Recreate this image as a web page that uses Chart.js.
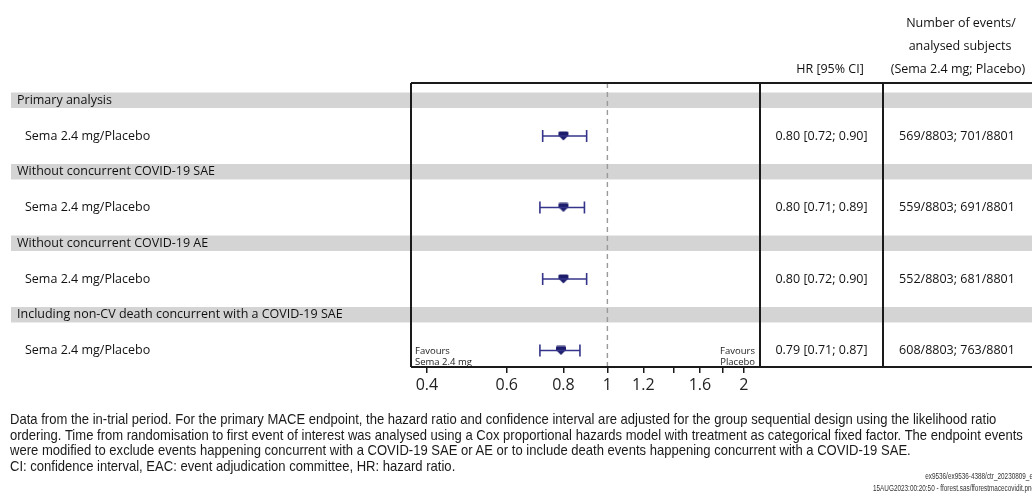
<!DOCTYPE html>
<html>
<head>
<meta charset="utf-8">
<title>Forest plot - MACE sensitivity analyses</title>
<script src="https://cdn.jsdelivr.net/npm/chart.js@4/dist/chart.umd.min.js"></script>
<style>
  html, body { margin: 0; padding: 0; background: #fff; }
  .wrap { position: relative; width: 1032px; height: 493px; overflow: hidden; }
  #forest { position: absolute; left: 0; top: 0; }
  .note {
    position: absolute; left: 10px; top: 412px;
    font-family: 'Liberation Sans', Arial, sans-serif;
    font-size: 14.6px; line-height: 15.7px; color: #1a1a1a;
    white-space: nowrap;
    transform: scaleX(0.894); transform-origin: left top;
  }
  .stamp {
    position: absolute; right: -3px; top: 471px; text-align: right;
    font-family: 'Liberation Sans', sans-serif; font-size: 8.5px; line-height: 11.5px; color: #333;
    white-space: nowrap;
    transform: scaleX(0.75); transform-origin: right top;
  }
</style>
</head>
<body>
<div class="wrap">
  <canvas id="forest" width="1032" height="493"></canvas>
  <div class="note">Data from the in-trial period. For the primary MACE endpoint, the hazard ratio and confidence interval are adjusted for the group sequential design using the likelihood ratio<br>ordering. Time from randomisation to first event of interest was analysed using a Cox proportional hazards model with treatment as categorical fixed factor. The endpoint events<br>were modified to exclude events happening concurrent with a COVID-19 SAE or AE or to include death events happening concurrent with a COVID-19 SAE.<br>CI: confidence interval, EAC: event adjudication committee, HR: hazard ratio.</div>
  <div class="stamp">ex9536/ex9536-4388/ctr_20230809_er<br>15AUG2023:00:20:50 - fforest.sas/fforestmacecovidit.png</div>
</div>
<script>
/* ---- datos ---- */
const groups = [
  'Primary analysis',
  'Without concurrent COVID-19 SAE',
  'Without concurrent COVID-19 AE',
  'Including non-CV death concurrent with a COVID-19 SAE'
];
const rowLabels = ['Sema 2.4 mg/Placebo', 'Sema 2.4 mg/Placebo', 'Sema 2.4 mg/Placebo', 'Sema 2.4 mg/Placebo'];
const hr     = [0.80, 0.80, 0.80, 0.79];
const ciLow  = [0.72, 0.71, 0.72, 0.71];
const ciHigh = [0.90, 0.89, 0.90, 0.87];
const events = ['569/8803; 701/8801', '559/8803; 691/8801', '552/8803; 681/8801', '608/8803; 763/8801'];
const tickValues = [0.4, 0.6, 0.8, 1, 1.2, 1.4, 1.6, 1.8, 2];
const tickLabels = [0.4, 0.6, 0.8, 1, 1.2, 1.6, 2];

const NAVY = '#1d1d6c';
const LINE = '#1a1a1a';
const FONT = "'Open Sans', 'Noto Sans', sans-serif";

// y: una fila por comparacion, la banda gris va media fila arriba
const Y_MIN = -0.741, Y_MAX = 3.231;

/* ---- marcador tipo escudo ---- */
function shieldMarker() {
  const c = document.createElement('canvas');
  c.width = 12; c.height = 10;
  const g = c.getContext('2d');
  g.fillStyle = NAVY;
  g.beginPath();
  g.moveTo(1, 1.5);
  g.quadraticCurveTo(1, 0.5, 2.5, 0.5);
  g.lineTo(9.5, 0.5);
  g.quadraticCurveTo(11, 0.5, 11, 1.5);
  g.lineTo(11, 4.5);
  g.lineTo(6, 9.5);
  g.lineTo(1, 4.5);
  g.closePath();
  g.fill();
  return c;
}

/* ---- datasets ---- */
const ciSets = hr.map((_, i) => ({
  data: [{ x: ciLow[i], y: i }, { x: ciHigh[i], y: i }],
  showLine: true,
  borderColor: '#34348a',
  borderWidth: 1.6,
  pointStyle: 'line',
  pointRotation: 90,
  pointRadius: 6,
  pointBorderColor: '#34348a',
  pointBorderWidth: 1.6
}));

const refLine = {
  data: [{ x: 1, y: Y_MIN }, { x: 1, y: Y_MAX }],
  showLine: true,
  borderColor: '#9a9a9a',
  borderWidth: 1.4,
  borderDash: [5, 4],
  pointRadius: 0
};

const points = {
  data: hr.map((v, i) => ({ x: v, y: i })),
  pointStyle: shieldMarker(),
  pointRadius: 6
};

/* ---- tabla: bandas, bordes y textos ---- */
const tablePlugin = {
  id: 'forestTable',
  beforeDraw(chart) {
    const { ctx, scales: { y } } = chart;
    ctx.save();
    ctx.fillStyle = '#d4d4d4';
    groups.forEach((_, i) => {
      const top = y.getPixelForValue(i - 0.5 - 0.108);
      const bot = y.getPixelForValue(i - 0.5 + 0.108);
      ctx.fillRect(11, top, chart.width - 11, bot - top);
    });
    ctx.restore();
  },
  afterDraw(chart) {
    const { ctx, chartArea: a, scales: { y } } = chart;
    const col2 = 883;
    ctx.save();

    // bordes
    ctx.strokeStyle = LINE;
    ctx.lineWidth = 2;
    ctx.beginPath();
    ctx.moveTo(a.left, a.top); ctx.lineTo(chart.width, a.top);
    ctx.moveTo(a.left, a.bottom); ctx.lineTo(chart.width, a.bottom);
    [a.left, a.right, col2].forEach(x => { ctx.moveTo(x, a.top); ctx.lineTo(x, a.bottom); });
    ctx.stroke();

    // cabeceras
    ctx.fillStyle = '#111';
    ctx.font = '12.5px ' + FONT;
    ctx.textAlign = 'center';
    ctx.textBaseline = 'middle';
    ctx.fillText('HR [95% CI]', 830, 69);
    ctx.fillText('Number of events/', 961, 23);
    ctx.fillText('analysed subjects', 960, 46);
    ctx.fillText('(Sema 2.4 mg; Placebo)', 958, 69);

    // filas
    groups.forEach((g, i) => {
      const yBand = y.getPixelForValue(i - 0.5);
      const yRow = y.getPixelForValue(i);
      ctx.textAlign = 'left';
      ctx.fillText(g, 17, yBand);
      ctx.fillText(rowLabels[i], 25, yRow);
      ctx.textAlign = 'center';
      const txt = hr[i].toFixed(2) + ' [' + ciLow[i].toFixed(2) + '; ' + ciHigh[i].toFixed(2) + ']';
      ctx.fillText(txt, 821.5, yRow);
      ctx.fillText(events[i], 957, yRow);
    });

    // favours
    ctx.font = '9.5px ' + FONT;
    ctx.fillStyle = '#222';
    ctx.textAlign = 'left';
    ctx.fillText('Favours', a.left + 4, a.bottom - 16);
    ctx.fillText('Sema 2.4 mg', a.left + 4, a.bottom - 5);
    ctx.textAlign = 'right';
    ctx.fillText('Favours', a.right - 5, a.bottom - 16);
    ctx.fillText('Placebo', a.right - 5, a.bottom - 5);
    ctx.restore();
  }
};

new Chart(document.getElementById('forest'), {
  type: 'scatter',
  data: { datasets: [refLine, ...ciSets, points] },
  plugins: [tablePlugin],
  options: {
    responsive: false,
    devicePixelRatio: 1,
    animation: false,
    events: [],
    layout: { padding: { left: 411, right: 272, top: 83, bottom: 96 } },
    plugins: { legend: { display: false }, tooltip: { enabled: false } },
    scales: {
      x: {
        type: 'logarithmic',
        min: 0.369,
        max: 2.17,
        afterBuildTicks: s => { s.ticks = tickValues.map(v => ({ value: v })); },
        afterFit: s => { s.height = 30; },
        border: { display: false },
        grid: { drawOnChartArea: false, drawTicks: true, tickLength: 6, color: LINE, lineWidth: 1.5 },
        ticks: {
          autoSkip: false, maxRotation: 0, padding: 3,
          color: '#222',
          font: { family: FONT, size: 16 },
          callback: v => tickLabels.includes(v) ? String(v) : ''
        }
      },
      y: { type: 'linear', reverse: true, min: Y_MIN, max: Y_MAX, display: false }
    }
  }
});
</script>
</body>
</html>
